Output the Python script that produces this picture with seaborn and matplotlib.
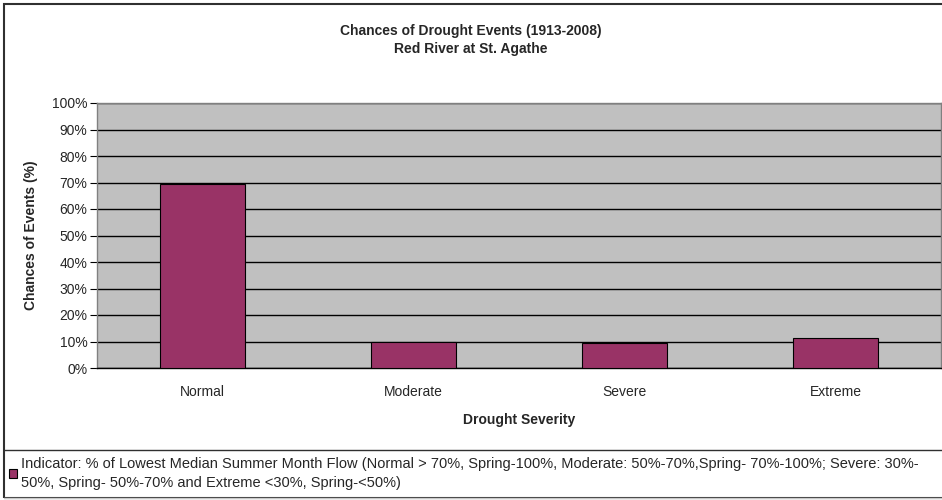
import matplotlib.pyplot as plt
import matplotlib.ticker as mticker
from matplotlib.patches import Rectangle
from matplotlib.lines import Line2D
import seaborn as sns
import pandas as pd

# data
severity = ["Normal", "Moderate", "Severe", "Extreme"]
chances = [69.5, 10.0, 9.4, 11.4]
legend_label = ("Indicator: % of Lowest Median Summer Month Flow (Normal > 70%, Spring-100%, "
                "Moderate: 50%-70%,Spring- 70%-100%; Severe: 30%-\n"
                "50%, Spring- 50%-70% and Extreme <30%, Spring-<50%)")

df = pd.DataFrame({"severity": severity, "chances": chances})

sns.set_style("white")
plt.rcParams["font.family"] = ["Liberation Sans", "DejaVu Sans"]
plt.rcParams["font.size"] = 10

fig = plt.figure(figsize=(9.42, 5), dpi=100)
ax = fig.add_axes([97 / 942, 132 / 500, 844 / 942, 265 / 500])
ax.set_facecolor("#C0C0C0")

sns.barplot(data=df, x="severity", y="chances", color="#993366", width=0.4,
            edgecolor="black", linewidth=0.8, saturation=1, ax=ax, zorder=3)

ax.set_ylim(0, 100)
ax.set_xlim(-0.5, 3.5)
ax.yaxis.set_major_locator(mticker.MultipleLocator(10))
ax.yaxis.set_major_formatter(mticker.FuncFormatter(lambda v, p: f"{v:.0f}%"))
ax.grid(axis="y", color="black", linewidth=1, zorder=1)
ax.set_axisbelow(True)

# ticks between categories, labels at centres
ax.set_xticks([0.5, 1.5, 2.5, 3.5], minor=True)
ax.tick_params(axis="x", which="major", length=0, pad=12, labelsize=10)
ax.tick_params(axis="x", which="minor", length=5, width=0.8, color="black", direction="out")
ax.tick_params(axis="y", length=5, width=0.8, color="black", direction="out", left=True,
               labelsize=10, pad=2)

for side in ["top", "right", "left"]:
    ax.spines[side].set_color("#808080")
    ax.spines[side].set_linewidth(1)
ax.spines["bottom"].set_color("black")
ax.spines["bottom"].set_linewidth(1)

ax.set_xlabel("Drought Severity", fontsize=10, fontweight="bold", labelpad=10)
ax.set_ylabel("Chances of Events (%)", fontsize=10, fontweight="bold", labelpad=10)

fig.text(0.5, 1 - 31 / 500, "Chances of Drought Events (1913-2008)", ha="center", va="center",
         fontsize=10, fontweight="bold")
fig.text(0.5, 1 - 49 / 500, "Red River at St. Agathe", ha="center", va="center",
         fontsize=10, fontweight="bold")

# outer chart border and legend box
fig.add_artist(Rectangle((4 / 942, 2 / 500), 1.0, 494 / 500, transform=fig.transFigure,
                         fill=False, edgecolor="#303030", linewidth=1.5, clip_on=False))
fig.add_artist(Line2D([4 / 942, 1], [1 - 450 / 500, 1 - 450 / 500], transform=fig.transFigure,
                      color="#303030", linewidth=1))
fig.add_artist(Line2D([4 / 942, 1], [2 / 500, 2 / 500], transform=fig.transFigure,
                      color="#C8C8C8", linewidth=1))

leg = fig.legend([ax.patches[0]], [legend_label], loc="upper left",
                 bbox_to_anchor=(3 / 942, 1 - 451 / 500),
                 frameon=False, fontsize=10.5, handlelength=0.55, handleheight=0.55,
                 handletextpad=0.3, borderpad=0.1, borderaxespad=0.3, labelspacing=0.2)
for t in leg.get_texts():
    t.set_linespacing(1.45)

fig.savefig("out.png", dpi=100)
